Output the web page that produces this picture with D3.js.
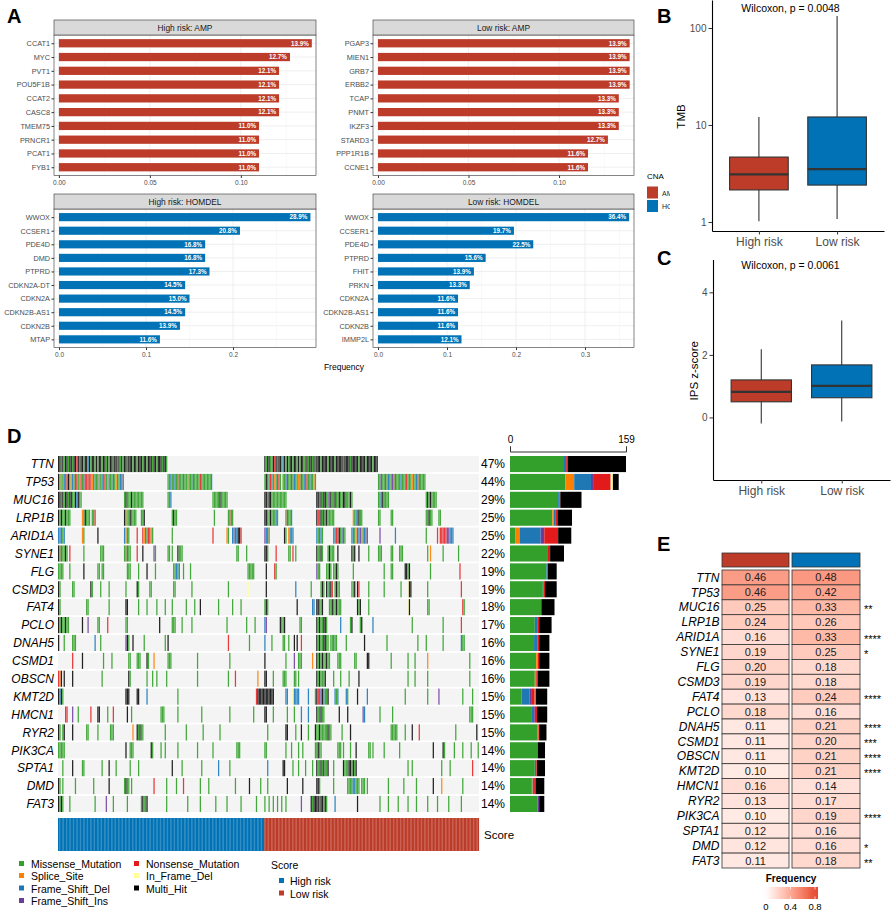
<!DOCTYPE html>
<html>
<head>
<meta charset="utf-8">
<script src="https://cdn.jsdelivr.net/npm/d3@7"></script>
<style>
  body { margin: 0; background: #fff; }
</style>
</head>
<body>
<svg id="fig" width="892" height="911"></svg>
<script>
var FONT = "'Liberation Sans', Arial, Helvetica, sans-serif";

// ---- panel A: CNA frequency ----
var ampHighGenes = ["CCAT1", "MYC", "PVT1", "POU5F1B", "CCAT2", "CASC8", "TMEM75", "PRNCR1", "PCAT1", "FYB1"];
var ampHighFreq = [0.139, 0.127, 0.121, 0.121, 0.121, 0.121, 0.110, 0.110, 0.110, 0.110];
var ampLowGenes = ["PGAP3", "MIEN1", "GRB7", "ERBB2", "TCAP", "PNMT", "IKZF3", "STARD3", "PPP1R1B", "CCNE1"];
var ampLowFreq = [0.139, 0.139, 0.139, 0.139, 0.133, 0.133, 0.133, 0.127, 0.116, 0.116];
var delHighGenes = ["WWOX", "CCSER1", "PDE4D", "DMD", "PTPRD", "CDKN2A-DT", "CDKN2A", "CDKN2B-AS1", "CDKN2B", "MTAP"];
var delHighFreq = [0.289, 0.208, 0.168, 0.168, 0.173, 0.145, 0.150, 0.145, 0.139, 0.116];
var delLowGenes = ["WWOX", "CCSER1", "PDE4D", "PTPRD", "FHIT", "PRKN", "CDKN2A", "CDKN2B-AS1", "CDKN2B", "IMMP2L"];
var delLowFreq = [0.364, 0.197, 0.225, 0.156, 0.139, 0.133, 0.116, 0.116, 0.116, 0.121];
var cnaTypes = ["AMP", "HOMDEL"];

// ---- panels B, C: boxplots (low whisker, Q1, median, Q3, high whisker) ----
var riskGroups = ["High risk", "Low risk"];
var tmbStats = [[1.02, 2.14, 3.1, 4.67, 12.1], [1.07, 2.4, 3.5, 12.1, 133]];
var ipsStats = [[-0.19, 0.5, 0.82, 1.2, 2.18], [-0.13, 0.63, 1.01, 1.68, 3.1]];
var tmbTicks = [1, 10, 100];
var ipsTicks = [0, 2, 4];

// ---- panel D: oncoplot ----
var oncoGenes = ["TTN", "TP53", "MUC16", "LRP1B", "ARID1A", "SYNE1", "FLG", "CSMD3", "FAT4", "PCLO",
  "DNAH5", "CSMD1", "OBSCN", "KMT2D", "HMCN1", "RYR2", "PIK3CA", "SPTA1", "DMD", "FAT3"];
var oncoPct = ["47%", "44%", "29%", "25%", "25%", "22%", "19%", "19%", "18%", "17%",
  "16%", "16%", "16%", "15%", "15%", "15%", "14%", "14%", "14%", "14%"];
var mutCodes = ["M", "S", "D", "I", "N", "F", "X"];
var mutNames = ["Missense_Mutation", "Splice_Site", "Frame_Shift_Del", "Frame_Shift_Ins",
  "Nonsense_Mutation", "In_Frame_Del", "Multi_Hit"];
var mutColors = ["#33A02C", "#FF7F00", "#1F78B4", "#6A3D9A", "#E31A1C", "#FFFF99", "#000000"];
// counts per gene, in mutCodes order
var geneCounts = [
  [74, 0, 3, 0, 2, 0, 80], [76, 12, 23, 4, 23, 3, 8], [66, 0, 2, 0, 1, 0, 29], [58, 2, 2, 0, 3, 0, 20],
  [7, 6, 29, 5, 19, 0, 18], [51, 0, 0, 0, 4, 0, 19], [50, 0, 1, 0, 1, 0, 12], [45, 0, 1, 0, 2, 0, 16],
  [43, 0, 0, 0, 0, 0, 18], [34, 0, 3, 1, 2, 0, 17], [33, 0, 5, 0, 2, 0, 14], [36, 2, 0, 0, 2, 0, 14],
  [34, 2, 0, 0, 2, 0, 16], [16, 0, 11, 3, 4, 1, 16], [29, 0, 4, 1, 3, 0, 14], [38, 1, 0, 0, 1, 0, 10],
  [38, 0, 0, 0, 0, 0, 10], [34, 0, 2, 0, 1, 0, 11], [30, 1, 2, 0, 2, 0, 12], [38, 0, 0, 2, 0, 0, 7]
];
var barMax = 159;
// sample blocks of the waterfall (TTN+TP53+, TTN+, TP53+, rest)
var highBlocks = [47, 31, 32, 37];
var lowBlocks = [37, 44, 34, 38];
// one char per sample, "|" between blocks, "." = no mutation
var highRows = [
  "XXMXMXXMXXMXXNXMXXMXXDXMXXMXMXXMXXMXMXXMXXMXMXMX|XXMXXXMXXMXXXMXXMXXXMXXMXXXMXXMX||",
  "XMSMDMNXMSDMNNMSNMNDNNMNSDMMDSMDMNMSDMMDMSMMDMIMD||MMDMMDMNMMMDMMSMMMDMMMMNMMMMMMMDM|",
  "XXMXMXXMXXMMXDXMM|MXMMMXMMMMMMMM|MMD|MMMMMXMMMMM",
  "XMXMMXMMM........SMXMMM.MMN|XMSMXMMMM...MMX|...MXMM|.M.........MMNM",
  "DDDMD............SM.........X|DSMM.....N...NSDMNNSM|...M|N.........SM..DDNDXXN",
  "XMNMMXM.N.........M...........MMM|MMNMM....N...X.......IM|MM.M...XMMM|.................MM.....M",
  "MMMM....M.........X.........MM.MM|..MMM.....M.....X.....M|....MMDMD..M....M|.........................MMMMM",
  "XM........MM...........XM.....M.....M|.M.......XM.......MM|....MM...........M|...........M.............F",
  "XM..................MM..............M|.XX.......M.....M......M.....M|...M.........M.....M...X|....M.........M.....M",
  "XMXMMXMM.........X...I......MM.....N|.MM......................X|...MMM....M......M|..........M.............M.....M",
  "X...M.....MMM.............D...M|.IXM..X.......M..............M|X|...........N..............M",
  "..........N......X..............M.....M|...MM....MMM....XM...S|MMM..................M|............M",
  "NSX.X.....X....................M|...XM...........M...M..M......M|.....................M|...........M....N...............S",
  "XDXM|.XXX.....XX.....D|.......M|...............................NXXXXX",
  ".....NN...I...M........N....XX.....M...N|..X..M....................MMM|.......M................M|............M................M",
  "XM.MX.....X.........MM......M........MMM|......S..XMXMM...............M|.............M...........M|.....M",
  "MMMMM|.X..MMM............XM.....M..M|.......M.............M|M................MMM",
  "...M......X......MM............M....X....M|....M.....M|...X......M.............M|....D.......M",
  "XM.M........M............M..........X|MXMM.M...............N........M|......M....N...........M.....M|................M.........X.......M",
  "XMXM....M.................M.......I....M|..M.........MXMMX.............M|..............M........M|..M.......M.........M..........M"
];
var lowRows = [
  "XMXXMMXNXMXXMDXMXMXXMXXMXMXXMNXMXXMXMX|XXXMXXXXMXXXXMXXXXXMXXXXMXXXXXMXXXXMXXXXMXXXM||",
  "MXDMNDMSMDNMFMMDIMMNMDMMSMNMDMNMMDMSMN||MDNMMNMDMMIMNMMMDMMMNMMMSMMDMNMMMMM|",
  "XXMXXMMMMMMMMMMM|XXMXMXXMIMXMMXMMXMMXXMMMXM|MDMXMMMM|MXMXMMMM",
  "XXMMXMMMDM.....MNMMD|XNMXMXMXMMMMM.............SMDMXMM|MM.......MM|MMXMM....MM",
  "IDNM..........XM.SDMD|DMDDM.......MDNNXMDNM....DDMSDDISMDDN|.I..........D|M.......N.NNNNNIIDDD",
  "XXM.....N........MM.N.M|XMMXM...MXMMM..X.........XMX..X......M|MMM......MM....MMM|.M.S........M..........M",
  ".X.....NM|IMM....MMXM.MMXM..........M|....M....MM........XXMX|...M....................N",
  ".X....................D..........M|...MXM.XMDXN.MXMM........MMX.XN......M|....M...........M....FXX|.M.......................N",
  "MXM....................X..........DD|XXMMX....MMXMMXMMM...........XMX.....M|.....................FX|.MM.......................NM",
  "DI.........XMMX..........MM|XMXMMXXM.........D......MX.....MX.......D|........................M|............M............N",
  "D....M.......MM..M...X.X..N|XMXMMXXMM.MMDMM......M............X|......M.....................M|M...........M............DMM",
  "X..............M.....I..MMM.......S|XMXMXMMXMM.....MMM.........MM.......XX|.........M...........M....M|.S.............................M",
  "XX....M......MMM.....MM.M|XMXMMMX.....M....M.....M......X|.....................M....M|.M.............................M",
  "XXXXXXX........DD...FDDDD......D....M|XNDIXMDMX....DMD.....DM......X......D|...................M|.M.......I................M......M",
  "XX....M.........M....M....D....D|XMDXMM..........X.....X..........ID|.M........M|...............................MMM",
  "..M............XX.....M...X....M....X|MMXMMMMMXMM.......M.....X|.........MMMMM.....M....X....N|.....................M..............X",
  "MM.............M...M....M..M........M|MXMM...........MMM.M....M...X........MM.M|....M..........M|.....X......XM......M.....M.....M....M",
  "..D..........XX.....M...M....M....M|XMMXMXMMX...M......XMMMXXMXMX|.....................M..M|...........M.....M...............N",
  "..M.............X..........X|XXM.........M.........MMMDMDMMM.MMM.M|.......M..........M........M|.....X.....S..............M",
  "M..M..M..M..M..M..........I......XMXX|XXMXXMXM.....D...............X|.M.....M......M......M.....M|.M......M.......M........M"
];

// ---- panel E: mutation frequency by group ----
var freqHigh = [0.46, 0.46, 0.25, 0.24, 0.16, 0.19, 0.20, 0.19, 0.13, 0.18, 0.11, 0.11, 0.11, 0.10, 0.16, 0.13, 0.10, 0.12, 0.12, 0.11];
var freqLow = [0.48, 0.42, 0.33, 0.26, 0.33, 0.25, 0.18, 0.18, 0.24, 0.16, 0.21, 0.20, 0.21, 0.21, 0.14, 0.17, 0.19, 0.16, 0.16, 0.18];
var freqStars = ["", "", "**", "", "****", "*", "", "", "****", "", "****", "***", "****", "****", "", "", "****", "", "*", "**"];
var freqLegendTicks = [0, 0.4, 0.8];

var RED = "#BC3C29", BLUE = "#0072B5";

var svg = d3.select("#fig").attr("font-family", FONT);

plotCna();
plotBox({ stats: tmbStats, x0: 712, x1: 884, y0: 0, y1: 231, log: true, domain: [0.807, 194.5],
  ticks: tmbTicks, title: "Wilcoxon, p = 0.0048", titleY: 11.5, ylab: "TMB", ylabX: 681 });
plotBox({ stats: ipsStats, x0: 713, x1: 890, y0: 259.5, y1: 480, log: false, domain: [-2, 5.05],
  ticks: ipsTicks, title: "Wilcoxon, p = 0.0061", titleY: 268.5, ylab: "IPS z-score", ylabX: 694 });
plotOncoplot();
plotFreqHeatmap();

var letters = [["A", 7, 23], ["B", 657, 23], ["C", 657, 265], ["D", 7, 443], ["E", 657, 551]];
svg.selectAll(".letter").data(letters).enter().append("text")
  .attr("x", function(d) { return d[1]; })
  .attr("y", function(d) { return d[2]; })
  .attr("font-size", 20).attr("font-weight", "bold")
  .text(function(d) { return d[0]; });


function styleAxis(g, size) {
  g.attr("font-family", FONT).attr("font-size", size);
  g.selectAll("text").attr("fill", "#4D4D4D");
  g.selectAll("line").attr("stroke", "#333");
}

function plotCnaFacet(o) {
  var g = svg.append("g");
  var x = d3.scaleLinear().domain(o.domain).range([o.x0, o.x1]);
  var y = d3.scalePoint().domain(o.genes).range([o.y0, o.y1]).padding(0.6);
  var bh = y.step() * 0.6;

  g.append("rect").attr("x", o.x0).attr("y", o.y0)
    .attr("width", o.x1 - o.x0).attr("height", o.y1 - o.y0).attr("fill", "#fff");

  g.selectAll(".minor").data(o.minor).enter().append("line")
    .attr("x1", function(d) { return x(d); }).attr("x2", function(d) { return x(d); })
    .attr("y1", o.y0).attr("y2", o.y1)
    .attr("stroke", "#F3F3F3").attr("stroke-width", 0.5);
  g.selectAll(".major").data(o.ticks).enter().append("line")
    .attr("x1", function(d) { return x(d); }).attr("x2", function(d) { return x(d); })
    .attr("y1", o.y0).attr("y2", o.y1)
    .attr("stroke", "#EBEBEB").attr("stroke-width", 0.8);
  g.selectAll(".hgrid").data(o.genes).enter().append("line")
    .attr("x1", o.x0).attr("x2", o.x1)
    .attr("y1", function(d) { return y(d); }).attr("y2", function(d) { return y(d); })
    .attr("stroke", "#EBEBEB").attr("stroke-width", 0.8);

  g.selectAll(".bar").data(o.genes).enter().append("rect")
    .attr("x", x(0))
    .attr("y", function(d) { return y(d) - bh / 2; })
    .attr("width", function(d, i) { return x(o.freq[i]) - x(0); })
    .attr("height", bh)
    .attr("fill", o.color);

  g.selectAll(".lab").data(o.genes).enter().append("text")
    .attr("x", function(d, i) { return x(o.freq[i]) - 3; })
    .attr("y", function(d) { return y(d) + 2.3; })
    .attr("text-anchor", "end")
    .attr("font-size", 6.3).attr("font-weight", "bold").attr("fill", "#fff")
    .text(function(d, i) { return d3.format(".1%")(o.freq[i]); });

  g.append("rect").attr("x", o.x0).attr("y", o.y0)
    .attr("width", o.x1 - o.x0).attr("height", o.y1 - o.y0)
    .attr("fill", "none").attr("stroke", "#333").attr("stroke-width", 0.6);

  g.append("rect").attr("x", o.x0).attr("y", o.y0 - 15)
    .attr("width", o.x1 - o.x0).attr("height", 15)
    .attr("fill", "#D9D9D9").attr("stroke", "#333").attr("stroke-width", 0.6);
  g.append("text").attr("x", (o.x0 + o.x1) / 2).attr("y", o.y0 - 4.5)
    .attr("text-anchor", "middle").attr("font-size", 8.4).attr("fill", "#1A1A1A")
    .text(o.title);

  var ya = g.append("g").attr("transform", "translate(" + o.x0 + ",0)")
    .call(d3.axisLeft(y).tickSize(2.5).tickPadding(1.5));
  ya.select(".domain").remove();
  styleAxis(ya, 7.3);

  var xa = g.append("g").attr("transform", "translate(0," + o.y1 + ")")
    .call(d3.axisBottom(x).tickValues(o.ticks).tickFormat(d3.format(o.fmt)).tickSize(2.5).tickPadding(2));
  xa.select(".domain").remove();
  styleAxis(xa, 6.5);
}

function plotCna() {
  plotCnaFacet({ genes: ampHighGenes, freq: ampHighFreq, color: RED, title: "High risk: AMP",
    x0: 54, x1: 316, y0: 35, y1: 175.5, domain: [-0.0027, 0.1413],
    ticks: [0, 0.05, 0.10], minor: [0.025, 0.075, 0.125], fmt: ".2f" });
  plotCnaFacet({ genes: ampLowGenes, freq: ampLowFreq, color: RED, title: "Low risk: AMP",
    x0: 373, x1: 634, y0: 35, y1: 175.5, domain: [-0.00276, 0.1414],
    ticks: [0, 0.05, 0.10], minor: [0.025, 0.075, 0.125], fmt: ".2f" });
  plotCnaFacet({ genes: delHighGenes, freq: delHighFreq, color: BLUE, title: "High risk: HOMDEL",
    x0: 54, x1: 316, y0: 209, y1: 347.5, domain: [-0.00575, 0.2954],
    ticks: [0, 0.1, 0.2], minor: [0.05, 0.15, 0.25], fmt: ".1f" });
  plotCnaFacet({ genes: delLowGenes, freq: delLowFreq, color: BLUE, title: "Low risk: HOMDEL",
    x0: 373, x1: 634, y0: 209, y1: 347.5, domain: [-0.00725, 0.371],
    ticks: [0, 0.1, 0.2, 0.3], minor: [0.05, 0.15, 0.25, 0.35], fmt: ".1f" });

  svg.append("text").attr("x", 344).attr("y", 369.5).attr("text-anchor", "middle")
    .attr("font-size", 8.5).text("Frequency");

  // legend, cut off by panel B
  svg.append("clipPath").attr("id", "cnaclip")
    .append("rect").attr("x", 600).attr("y", 160).attr("width", 70).attr("height", 70);
  var lg = svg.append("g").attr("clip-path", "url(#cnaclip)");
  lg.append("text").attr("x", 647).attr("y", 179).attr("font-size", 8).text("CNA");
  lg.selectAll(".key").data(cnaTypes).enter().append("rect")
    .attr("x", 647).attr("y", function(d, i) { return 186.5 + i * 13.5; })
    .attr("width", 11).attr("height", 12)
    .attr("fill", function(d, i) { return i === 0 ? RED : BLUE; });
  lg.selectAll(".keylab").data(cnaTypes).enter().append("text")
    .attr("x", 662).attr("y", function(d, i) { return 195.5 + i * 13.5; })
    .attr("font-size", 7).attr("fill", "#1A1A1A")
    .text(function(d) { return d; });
}

function plotBox(o) {
  var g = svg.append("g");
  var x = d3.scalePoint().domain(riskGroups).range([o.x0, o.x1]).padding(0.6);
  var bw = x.step() * 0.75;
  var y = (o.log ? d3.scaleLog() : d3.scaleLinear()).domain(o.domain).range([o.y1, o.y0]);
  var fills = [RED, BLUE];

  var box = g.selectAll(".box").data(riskGroups).enter().append("g");
  box.append("line")
    .attr("x1", function(d) { return x(d); }).attr("x2", function(d) { return x(d); })
    .attr("y1", function(d, i) { return y(o.stats[i][0]); })
    .attr("y2", function(d, i) { return y(o.stats[i][4]); })
    .attr("stroke", "#333").attr("stroke-width", 1.1);
  box.append("rect")
    .attr("x", function(d) { return x(d) - bw / 2; })
    .attr("y", function(d, i) { return y(o.stats[i][3]); })
    .attr("width", bw)
    .attr("height", function(d, i) { return y(o.stats[i][1]) - y(o.stats[i][3]); })
    .attr("fill", function(d, i) { return fills[i]; })
    .attr("stroke", "#333").attr("stroke-width", 1.1);
  box.append("line")
    .attr("x1", function(d) { return x(d) - bw / 2; }).attr("x2", function(d) { return x(d) + bw / 2; })
    .attr("y1", function(d, i) { return y(o.stats[i][2]); })
    .attr("y2", function(d, i) { return y(o.stats[i][2]); })
    .attr("stroke", "#333").attr("stroke-width", 2.2);

  var ya = g.append("g").attr("transform", "translate(" + o.x0 + ",0)")
    .call(d3.axisLeft(y).tickValues(o.ticks).tickFormat(d3.format("d")).tickSize(3.5).tickSizeOuter(0).tickPadding(2));
  styleAxis(ya, 10);
  ya.select(".domain").attr("stroke", "#000").attr("stroke-width", 1.1);

  var xa = g.append("g").attr("transform", "translate(0," + o.y1 + ")")
    .call(d3.axisBottom(x).tickSize(3.5).tickSizeOuter(0).tickPadding(2.5));
  styleAxis(xa, 12);
  xa.select(".domain").attr("stroke", "#000").attr("stroke-width", 1.1);

  g.append("text").attr("x", 790.5).attr("y", o.titleY).attr("text-anchor", "middle")
    .attr("font-size", 10.5).text(o.title);
  g.append("text")
    .attr("transform", "translate(" + o.ylabX + "," + ((o.y0 + o.y1) / 2 + 1) + ") rotate(-90)")
    .attr("text-anchor", "middle").attr("dy", "0.35em").attr("font-size", 11.5)
    .text(o.ylab);
}

function decodeRow(str, blocks) {
  var parts = str.split("|");
  var out = "";
  blocks.forEach(function(n, k) {
    var p = parts[k] || "";
    while (p.length < n) p += ".";
    out += p.slice(0, n);
  });
  return out;
}

function plotOncoplot() {
  var g = svg.append("g");
  var nHigh = d3.sum(highBlocks), nLow = d3.sum(lowBlocks);
  var samples = d3.range(nHigh + nLow);
  var xs = d3.scaleBand().domain(samples).range([58, 479]);
  var ry = d3.scaleBand().domain(oncoGenes).range([456, 812]).paddingInner(0.1);
  var color = d3.scaleOrdinal().domain(mutCodes).range(mutColors);
  var cellColor = d3.scaleOrdinal().domain(mutCodes)
    .range(["#43A83B", "#FF8A1A", "#2F86C2", "#7E52A8", "#E83A3C", "#FFFF99", "#222222"]);

  var cells = [];
  oncoGenes.forEach(function(gene, r) {
    var row = decodeRow(highRows[r], highBlocks) + decodeRow(lowRows[r], lowBlocks);
    for (var i = 0; i < row.length; i++) {
      if (row[i] !== ".") cells.push({ gene: gene, s: i, t: row[i] });
    }
  });

  g.selectAll(".rowbg").data(oncoGenes).enter().append("rect")
    .attr("x", 58).attr("y", function(d) { return ry(d); })
    .attr("width", 421).attr("height", ry.bandwidth())
    .attr("fill", "#F4F4F4");

  g.selectAll(".cell").data(cells).enter().append("rect")
    .attr("x", function(d) { return xs(d.s); })
    .attr("y", function(d) { return ry(d.gene); })
    .attr("width", xs.bandwidth() - 0.15)
    .attr("height", ry.bandwidth())
    .attr("fill", function(d) { return cellColor(d.t); });

  g.selectAll(".gname").data(oncoGenes).enter().append("text")
    .attr("x", 54).attr("y", function(d) { return ry(d) + ry.bandwidth() / 2 + 4.3; })
    .attr("text-anchor", "end").attr("font-size", 12).attr("font-style", "italic")
    .text(function(d) { return d; });

  g.selectAll(".pct").data(oncoGenes).enter().append("text")
    .attr("x", 481).attr("y", function(d) { return ry(d) + ry.bandwidth() / 2 + 4.3; })
    .attr("font-size", 12)
    .text(function(d, i) { return oncoPct[i]; });

  // side bars
  var bx = d3.scaleLinear().domain([0, barMax]).range([510, 626]);
  var stack = d3.stack().keys(d3.range(mutCodes.length))(geneCounts);
  g.selectAll(".layer").data(stack).enter().append("g")
    .attr("fill", function(d, i) { return color(mutCodes[i]); })
    .selectAll("rect").data(function(d) { return d; }).enter().append("rect")
    .attr("x", function(d) { return bx(d[0]); })
    .attr("y", function(d, i) { return ry(oncoGenes[i]); })
    .attr("width", function(d) { return bx(d[1]) - bx(d[0]); })
    .attr("height", ry.bandwidth());

  var ba = g.append("g").attr("transform", "translate(0,451.5)")
    .call(d3.axisTop(bx).tickValues([0, barMax]).tickSize(5).tickSizeOuter(5).tickPadding(4));
  ba.attr("font-family", FONT).attr("font-size", 10);
  ba.selectAll("text").attr("fill", "#000");
  ba.selectAll("line").attr("stroke", "#333");
  ba.select(".domain").attr("stroke", "#333");

  // score annotation
  g.selectAll(".score").data(samples).enter().append("rect")
    .attr("x", function(d) { return xs(d); })
    .attr("y", 818).attr("width", xs.bandwidth() + 0.1).attr("height", 33)
    .attr("fill", function(d) { return d < nHigh ? BLUE : RED; });
  g.append("text").attr("x", 484).attr("y", 839).attr("font-size", 11.5).text("Score");

  // legend
  var legPos = [[20, 864], [20, 876], [20, 888.5], [20, 901], [135, 864], [135, 876], [135, 888.5]];
  var leg = g.selectAll(".leg").data(mutNames).enter().append("g")
    .attr("transform", function(d, i) { return "translate(" + legPos[i][0] + "," + legPos[i][1] + ")"; });
  leg.append("rect").attr("x", -1).attr("y", -3).attr("width", 5).attr("height", 5)
    .attr("fill", function(d, i) { return mutColors[i]; });
  leg.append("text").attr("x", 11).attr("y", 4).attr("font-size", 10.5)
    .text(function(d) { return d; });

  g.append("text").attr("x", 271).attr("y", 869).attr("font-size", 10.5).text("Score");
  var sleg = g.selectAll(".sleg").data(riskGroups).enter().append("g")
    .attr("transform", function(d, i) { return "translate(280," + (881 + i * 12.5) + ")"; });
  sleg.append("rect").attr("x", -1).attr("y", -3).attr("width", 5).attr("height", 5)
    .attr("fill", function(d, i) { return i === 0 ? BLUE : RED; });
  sleg.append("text").attr("x", 10).attr("y", 4).attr("font-size", 10.5)
    .text(function(d) { return d; });
}

function plotFreqHeatmap() {
  var g = svg.append("g");
  var ry = d3.scaleBand().domain(oncoGenes).range([570, 868]);
  var cols = [{ x: 722, w: 67, v: freqHigh, c: RED }, { x: 792, w: 68, v: freqLow, c: BLUE }];
  var col = d3.scaleLinear().domain([0, 0.8]).range(["#FFFFFF", "#E64B35"])
    .interpolate(d3.interpolateLab).clamp(true);

  cols.forEach(function(c) {
    g.append("rect").attr("x", c.x).attr("y", 553).attr("width", c.w).attr("height", 14)
      .attr("fill", c.c).attr("stroke", "#333").attr("stroke-width", 0.8);
    g.selectAll(null).data(oncoGenes).enter().append("rect")
      .attr("x", c.x).attr("y", function(d) { return ry(d); })
      .attr("width", c.w).attr("height", ry.bandwidth())
      .attr("fill", function(d, i) { return col(c.v[i]); })
      .attr("stroke", "#333").attr("stroke-width", 0.8);
    g.selectAll(null).data(oncoGenes).enter().append("text")
      .attr("x", c.x + c.w / 2).attr("y", function(d) { return ry(d) + ry.bandwidth() / 2 + 4; })
      .attr("text-anchor", "middle").attr("font-size", 11).attr("fill", "#222")
      .text(function(d, i) { return d3.format(".2f")(c.v[i]); });
  });

  g.selectAll(".hname").data(oncoGenes).enter().append("text")
    .attr("x", 719.5).attr("y", function(d) { return ry(d) + ry.bandwidth() / 2 + 4.2; })
    .attr("text-anchor", "end").attr("font-size", 12).attr("font-style", "italic")
    .text(function(d) { return d; });

  g.selectAll(".star").data(oncoGenes).enter().append("text")
    .attr("x", 864).attr("y", function(d) { return ry(d) + ry.bandwidth() / 2 + 6; })
    .attr("font-size", 11)
    .text(function(d, i) { return freqStars[i]; });

  // legend
  var lx = d3.scaleLinear().domain([0, 0.8]).range([766, 815]);
  var grad = svg.append("defs").append("linearGradient").attr("id", "fgrad");
  grad.selectAll("stop").data(d3.range(0, 1.01, 0.1)).enter().append("stop")
    .attr("offset", function(d) { return d; })
    .attr("stop-color", function(d) { return col(lx.invert(762 + d * 56)); });
  g.append("text").attr("x", 791).attr("y", 882).attr("text-anchor", "middle")
    .attr("font-size", 10).attr("font-weight", "bold").text("Frequency");
  g.append("rect").attr("x", 762).attr("y", 887).attr("width", 56).attr("height", 12)
    .attr("fill", "url(#fgrad)");
  g.selectAll(".lt").data(freqLegendTicks).enter().append("line")
    .attr("x1", function(d) { return lx(d); }).attr("x2", function(d) { return lx(d); })
    .attr("y1", 887).attr("y2", 889.5).attr("stroke", "#fff").attr("stroke-width", 0.7);
  g.selectAll(".ltb").data(freqLegendTicks).enter().append("line")
    .attr("x1", function(d) { return lx(d); }).attr("x2", function(d) { return lx(d); })
    .attr("y1", 896.5).attr("y2", 899).attr("stroke", "#fff").attr("stroke-width", 0.7);
  g.selectAll(".ltl").data(freqLegendTicks).enter().append("text")
    .attr("x", function(d) { return lx(d); }).attr("y", 909.5)
    .attr("text-anchor", "middle").attr("font-size", 9.5)
    .text(function(d) { return d === 0 ? "0" : d3.format(".1f")(d); });
}
</script>
</body>
</html>
